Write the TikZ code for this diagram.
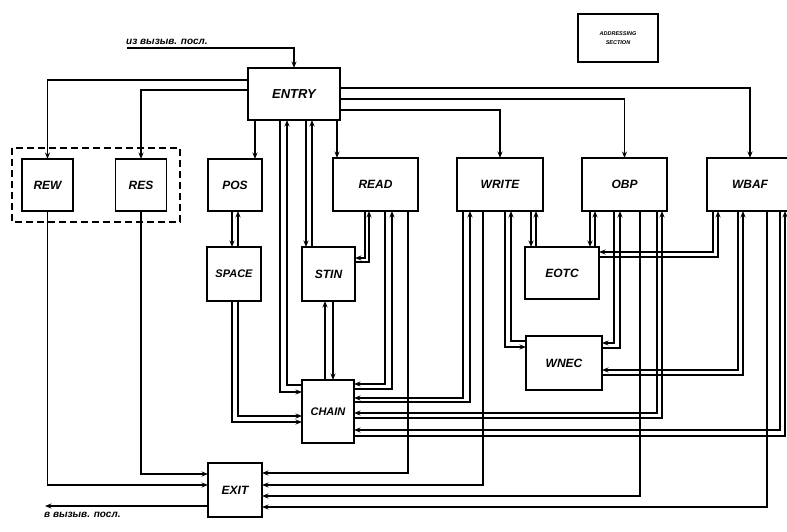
\documentclass[tikz,border=0pt]{standalone}
\usepackage{fontspec}
\setmainfont{Liberation Sans}
\usetikzlibrary{arrows.meta}
\begin{document}
\begin{tikzpicture}[x=1pt,y=-1pt,
  box/.style={draw,line width=1.8pt,inner sep=0pt,outer sep=0pt,
    font=\fontsize{12}{14}\selectfont\bfseries\itshape},
  ln/.style={line width=1.4pt},
  arr/.style={ln,-{Stealth[length=6.5pt,width=5pt]}},
  lbl/.style={inner sep=1pt,font=\fontsize{10}{12}\selectfont\bfseries\itshape}
]
\useasboundingbox (0,0) rectangle (787,532);

% boxes
\node[box,minimum width=92pt,minimum height=52pt,font=\fontsize{13}{15}\selectfont\bfseries\itshape] (ENTRY) at (294,94) {ENTRY};
\node[box,minimum width=80pt,minimum height=48pt,align=center,
  font=\fontsize{5.5}{9}\selectfont\bfseries\itshape] (SEC) at (618,38) {ADDRESSING\\SECTION};
\node[box,minimum width=51pt,minimum height=52pt] (REW) at (47.5,185) {REW};
\node[box,minimum width=51pt,minimum height=52pt] (RES) at (141,185) {RES};
\node[box,minimum width=54pt,minimum height=52pt] (POS) at (235,185) {POS};
\node[box,minimum width=85pt,minimum height=53pt] (READ) at (375.5,184.5) {READ};
\node[box,minimum width=86pt,minimum height=53pt] (WRITE) at (500,184.5) {WRITE};
\node[box,minimum width=85pt,minimum height=53pt] (OBP) at (624.5,184.5) {OBP};
\node[box,minimum width=86pt,minimum height=53pt] (WBAF) at (750,184.5) {WBAF};
\node[box,minimum width=54pt,minimum height=54pt,font=\fontsize{11}{13}\selectfont\bfseries\itshape] (SPACE) at (234,274) {SPACE};
\node[box,minimum width=53pt,minimum height=54pt] (STIN) at (328.5,274) {STIN};
\node[box,minimum width=74pt,minimum height=52pt] (EOTC) at (562,273) {EOTC};
\node[box,minimum width=76pt,minimum height=54pt] (WNEC) at (564,363) {WNEC};
\node[box,minimum width=52pt,minimum height=63pt,font=\fontsize{11}{13}\selectfont\bfseries\itshape] (CHAIN) at (328,411.5) {CHAIN};
\node[box,minimum width=54pt,minimum height=54pt] (EXIT) at (235,490) {EXIT};

% dashed group
\draw[line width=1.6pt,dash pattern=on 7pt off 4pt] (12,148) rectangle (180,222);

% input
\coordinate (in0) at (127,48);
\draw[arr] (in0) -| (ENTRY.north);
\node[lbl,anchor=south west] (tin) at (125,46) {из вызыв. посл.};

% ENTRY left
\draw[arr] (ENTRY.west |- 0,80) -| (REW.north);
\draw[arr] (ENTRY.west |- 0,90) -| (RES.north);
% ENTRY right
\draw[arr] (ENTRY.east |- 0,88) -| (WBAF.north);
\draw[arr] (ENTRY.east |- 0,99) -| (OBP.north);
\draw[arr] (ENTRY.east |- 0,110) -| (WRITE.north);
% ENTRY bottom
\draw[arr] (255,0 |- ENTRY.south) -- (255,0 |- POS.north);
\draw[arr] (280,0 |- ENTRY.south) |- (CHAIN.west |- 0,392);
\draw[arr] (CHAIN.west |- 0,385) -| (287,0 |- ENTRY.south);
\draw[arr] (306,0 |- ENTRY.south) -- (306,0 |- STIN.north);
\draw[arr] (312,0 |- STIN.north) -- (312,0 |- ENTRY.south);
\draw[arr] (337,0 |- ENTRY.south) -- (337,0 |- READ.north);

% POS - SPACE
\draw[arr] (232,0 |- POS.south) -- (232,0 |- SPACE.north);
\draw[arr] (238,0 |- SPACE.north) -- (238,0 |- POS.south);
% SPACE - CHAIN
\draw[arr] (232,0 |- SPACE.south) |- (CHAIN.west |- 0,422);
\draw[arr] (238,0 |- SPACE.south) |- (CHAIN.west |- 0,416);
% STIN - CHAIN
\draw[arr] (325,0 |- CHAIN.north) -- (325,0 |- STIN.south);
\draw[arr] (333,0 |- STIN.south) -- (333,0 |- CHAIN.north);

% READ
\draw[arr] (365,0 |- READ.south) |- (STIN.east |- 0,258);
\draw[arr] (STIN.east |- 0,262) -| (369,0 |- READ.south);
\draw[arr] (385,0 |- READ.south) |- (CHAIN.east |- 0,384);
\draw[arr] (CHAIN.east |- 0,389) -| (392,0 |- READ.south);
\draw[arr] (408,0 |- READ.south) |- (EXIT.east |- 0,473);

% REW, RES -> EXIT
\draw[arr] (REW.south) |- (EXIT.west |- 0,485);
\draw[arr] (RES.south) |- (EXIT.west |- 0,474);
% EXIT output
\coordinate (out0) at (45,506);
\draw[arr] (EXIT.west |- 0,506) -- (out0);
\node[lbl,anchor=north west] (tout) at (43,511) {в вызыв. посл.};

% WRITE
\draw[arr] (463,0 |- WRITE.south) |- (CHAIN.east |- 0,398);
\draw[arr] (CHAIN.east |- 0,402) -| (470,0 |- WRITE.south);
\draw[arr] (483,0 |- WRITE.south) |- (EXIT.east |- 0,485);
\draw[arr] (505,0 |- WRITE.south) |- (WNEC.west |- 0,347);
\draw[arr] (WNEC.west |- 0,341) -| (511,0 |- WRITE.south);
\draw[arr] (531,0 |- WRITE.south) -- (531,0 |- EOTC.north);
\draw[arr] (536,0 |- EOTC.north) -- (536,0 |- WRITE.south);

% OBP
\draw[arr] (590,0 |- OBP.south) -- (590,0 |- EOTC.north);
\draw[arr] (595,0 |- EOTC.north) -- (595,0 |- OBP.south);
\draw[arr] (614,0 |- OBP.south) |- (WNEC.east |- 0,343);
\draw[arr] (WNEC.east |- 0,348) -| (620,0 |- OBP.south);
\draw[arr] (640,0 |- OBP.south) |- (EXIT.east |- 0,496);
\draw[arr] (657,0 |- OBP.south) |- (CHAIN.east |- 0,413);
\draw[arr] (CHAIN.east |- 0,418) -| (662,0 |- OBP.south);

% WBAF
\draw[arr] (713,0 |- WBAF.south) |- (EOTC.east |- 0,252);
\draw[arr] (EOTC.east |- 0,257) -| (718,0 |- WBAF.south);
\draw[arr] (738,0 |- WBAF.south) |- (WNEC.east |- 0,370);
\draw[arr] (WNEC.east |- 0,375) -| (743,0 |- WBAF.south);
\draw[arr] (767,0 |- WBAF.south) |- (EXIT.east |- 0,507);
\draw[arr] (780,0 |- WBAF.south) |- (CHAIN.east |- 0,430);
\draw[arr] (CHAIN.east |- 0,436) -| (785,0 |- WBAF.south);
\end{tikzpicture}
\end{document}
